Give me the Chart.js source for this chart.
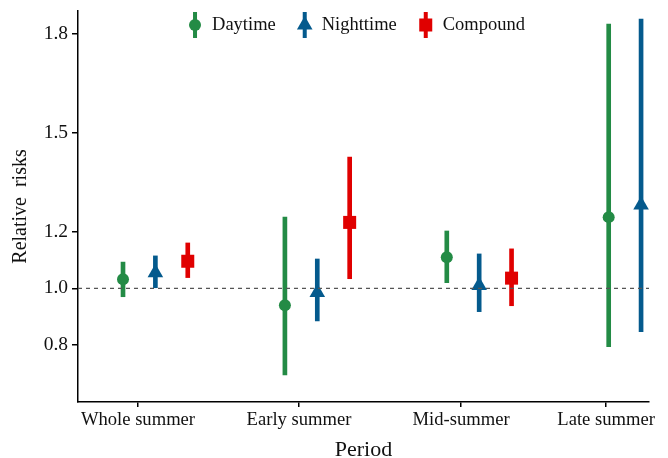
<!DOCTYPE html>
<html>
<head>
<meta charset="utf-8">
<script src="https://cdn.jsdelivr.net/npm/chart.js@4.4.0/dist/chart.umd.min.js"></script>
<style>
  html, body { margin: 0; padding: 0; background: #fff; }
  #wrap { width: 668px; height: 458px; }
</style>
</head>
<body>
<div id="wrap"><canvas id="grafico" width="668" height="458"></canvas></div>
<script>
// Dados
const periods = ['Whole summer', 'Early summer', 'Mid-summer', 'Late summer'];
const dayRR = [1.032, 0.940, 1.110, 1.245];
const dayLow = [0.970, 0.692, 1.020, 0.793];
const dayHigh = [1.093, 1.245, 1.203, 1.830];
const nightRR = [1.055, 0.985, 1.010, 1.282];
const nightLow = [1.002, 0.884, 0.917, 0.846];
const nightHigh = [1.115, 1.104, 1.122, 1.845];
const compRR = [1.096, 1.229, 1.036, null];
const compLow = [1.038, 1.034, 0.938, null];
const compHigh = [1.161, 1.427, 1.140, null];
const yTicks = [0.8, 1.0, 1.2, 1.5, 1.8];
const yTickLabels = ['0.8', '1.0', '1.2', '1.5', '1.8'];

const verde = '#238B45';
const azul = '#045A8D';
const vermelho = '#E00000';
const fonte = '"Liberation Serif", "Times New Roman", serif';

// eixo y do original: passo mais curto abaixo de 1.2, mais largo acima
function toAxis(v) {
  if (v <= 1.2) return (v - 1) * 5;
  return 1 + (v - 1.2) * (1.758 / 0.3);
}

const series = [
  { label: 'Daytime', rr: dayRR, lo: dayLow, hi: dayHigh, cor: verde, forma: 'circle', raio: 6, desloc: -0.2 },
  { label: 'Nighttime', rr: nightRR, lo: nightLow, hi: nightHigh, cor: azul, forma: 'triangle', raio: 9, desloc: 0 },
  { label: 'Compound', rr: compRR, lo: compLow, hi: compHigh, cor: vermelho, forma: 'rect', raio: 9.2, desloc: 0.2 },
];

const datasets = [];
series.forEach((s) => {
  datasets.push({
    type: 'bar',
    label: s.label + ' CI',
    data: periods.map((p, i) => (s.lo[i] == null ? null : { x: i + s.desloc, y: [toAxis(s.lo[i]), toAxis(s.hi[i])] })).filter((d) => d),
    backgroundColor: s.cor,
    borderWidth: 0,
    barThickness: 4,
    grouped: false,
    order: 2,
  });
  datasets.push({
    type: 'scatter',
    label: s.label,
    data: periods.map((p, i) => (s.rr[i] == null ? null : { x: i + s.desloc, y: toAxis(s.rr[i]) })).filter((d) => d),
    pointStyle: s.forma,
    pointRadius: s.raio,
    pointHoverRadius: s.raio,
    backgroundColor: s.cor,
    borderColor: s.cor,
    borderWidth: 0,
    order: 1,
  });
});

// linha tracejada em RR = 1
const linhaRef = {
  id: 'linhaRef',
  afterDatasetsDraw(chart) {
    const { ctx, chartArea } = chart;
    const y = chart.scales.y.getPixelForValue(toAxis(1.0));
    ctx.save();
    ctx.strokeStyle = '#555555';
    ctx.lineWidth = 1.2;
    ctx.setLineDash([4, 4]);
    ctx.beginPath();
    ctx.moveTo(chartArea.left, y);
    ctx.lineTo(chartArea.right, y);
    ctx.stroke();
    ctx.restore();
  },
};

function desenharMarca(ctx, forma, cx, cy, r) {
  ctx.beginPath();
  if (forma === 'circle') {
    ctx.arc(cx, cy, r, 0, Math.PI * 2);
  } else if (forma === 'triangle') {
    ctx.moveTo(cx, cy - r);
    ctx.lineTo(cx + Math.sin(Math.PI / 3) * r, cy + r / 2);
    ctx.lineTo(cx - Math.sin(Math.PI / 3) * r, cy + r / 2);
    ctx.closePath();
  } else {
    const h = Math.SQRT1_2 * r;
    ctx.rect(cx - h, cy - h, 2 * h, 2 * h);
  }
  ctx.fill();
}

// legenda dentro da área do gráfico, no topo
const legenda = {
  id: 'legenda',
  afterDraw(chart) {
    const { ctx, chartArea } = chart;
    ctx.save();
    ctx.font = '18.5px ' + fonte;
    const larguras = series.map((s) => ctx.measureText(s.label).width);
    let total = 0;
    larguras.forEach((w) => { total += 24 + w; });
    total += 22 * (series.length - 1);
    let x = (chartArea.left + chartArea.right) / 2 - 7 - total / 2;
    const y = chartArea.top + 14;
    series.forEach((s, i) => {
      const cx = x + 7;
      ctx.fillStyle = s.cor;
      ctx.fillRect(cx - 2, y - 13, 4, 26);
      desenharMarca(ctx, s.forma, cx, y, s.raio);
      ctx.fillStyle = '#111';
      ctx.textBaseline = 'middle';
      ctx.textAlign = 'left';
      ctx.fillText(s.label, cx + 17, y);
      x = cx + 17 + larguras[i] + 22;
    });
    ctx.restore();
  },
};

new Chart(document.getElementById('grafico'), {
  type: 'scatter',
  data: { datasets },
  options: {
    responsive: false,
    animation: false,
    layout: { padding: { top: 11, right: 19, left: 0, bottom: 0 } },
    plugins: {
      legend: { display: false },
      tooltip: { enabled: false },
    },
    scales: {
      x: {
        type: 'linear',
        min: -0.478,
        max: 3.049,
        offset: false,
        afterFit: (s) => { s.height = 56; },
        afterBuildTicks: (s) => {
          s.ticks = [-0.1075, 0.887, 1.888, 2.784].map((v) => ({ value: v }));
        },
        ticks: {
          callback: (v, i) => periods[i],
          autoSkip: false,
          maxRotation: 0,
          padding: 2,
          color: '#111',
          font: { family: fonte, size: 18.6 },
        },
        grid: { drawOnChartArea: false, drawTicks: true, tickLength: 5, color: '#000', lineWidth: 1.5, offset: false },
        border: { color: '#000', width: 1.5 },
        title: {
          display: true,
          text: 'Period',
          color: '#111',
          font: { family: fonte, size: 22, lineHeight: 1 },
          padding: { top: 0, bottom: -3 },
        },
      },
      y: {
        type: 'linear',
        min: -2.02,
        max: 4.925,
        beginAtZero: false,
        afterFit: (s) => {
          s.width = 78;
          s.paddingTop = 0;
          s.paddingBottom = 0;
        },
        afterBuildTicks: (s) => {
          s.ticks = yTicks.map((v) => ({ value: toAxis(v) }));
        },
        ticks: {
          callback: (v, i) => yTickLabels[i],
          padding: 4,
          color: '#111',
          font: { family: fonte, size: 19.5 },
        },
        grid: { drawOnChartArea: false, drawTicks: true, tickLength: 6, color: '#000', lineWidth: 1.5 },
        border: { color: '#000', width: 1.5 },
        title: {
          display: true,
          text: 'Relative  risks',
          color: '#111',
          font: { family: fonte, size: 20, lineHeight: 1.2 },
          padding: { top: 9, bottom: 0 },
        },
      },
    },
  },
  plugins: [linhaRef, legenda],
});
</script>
</body>
</html>
